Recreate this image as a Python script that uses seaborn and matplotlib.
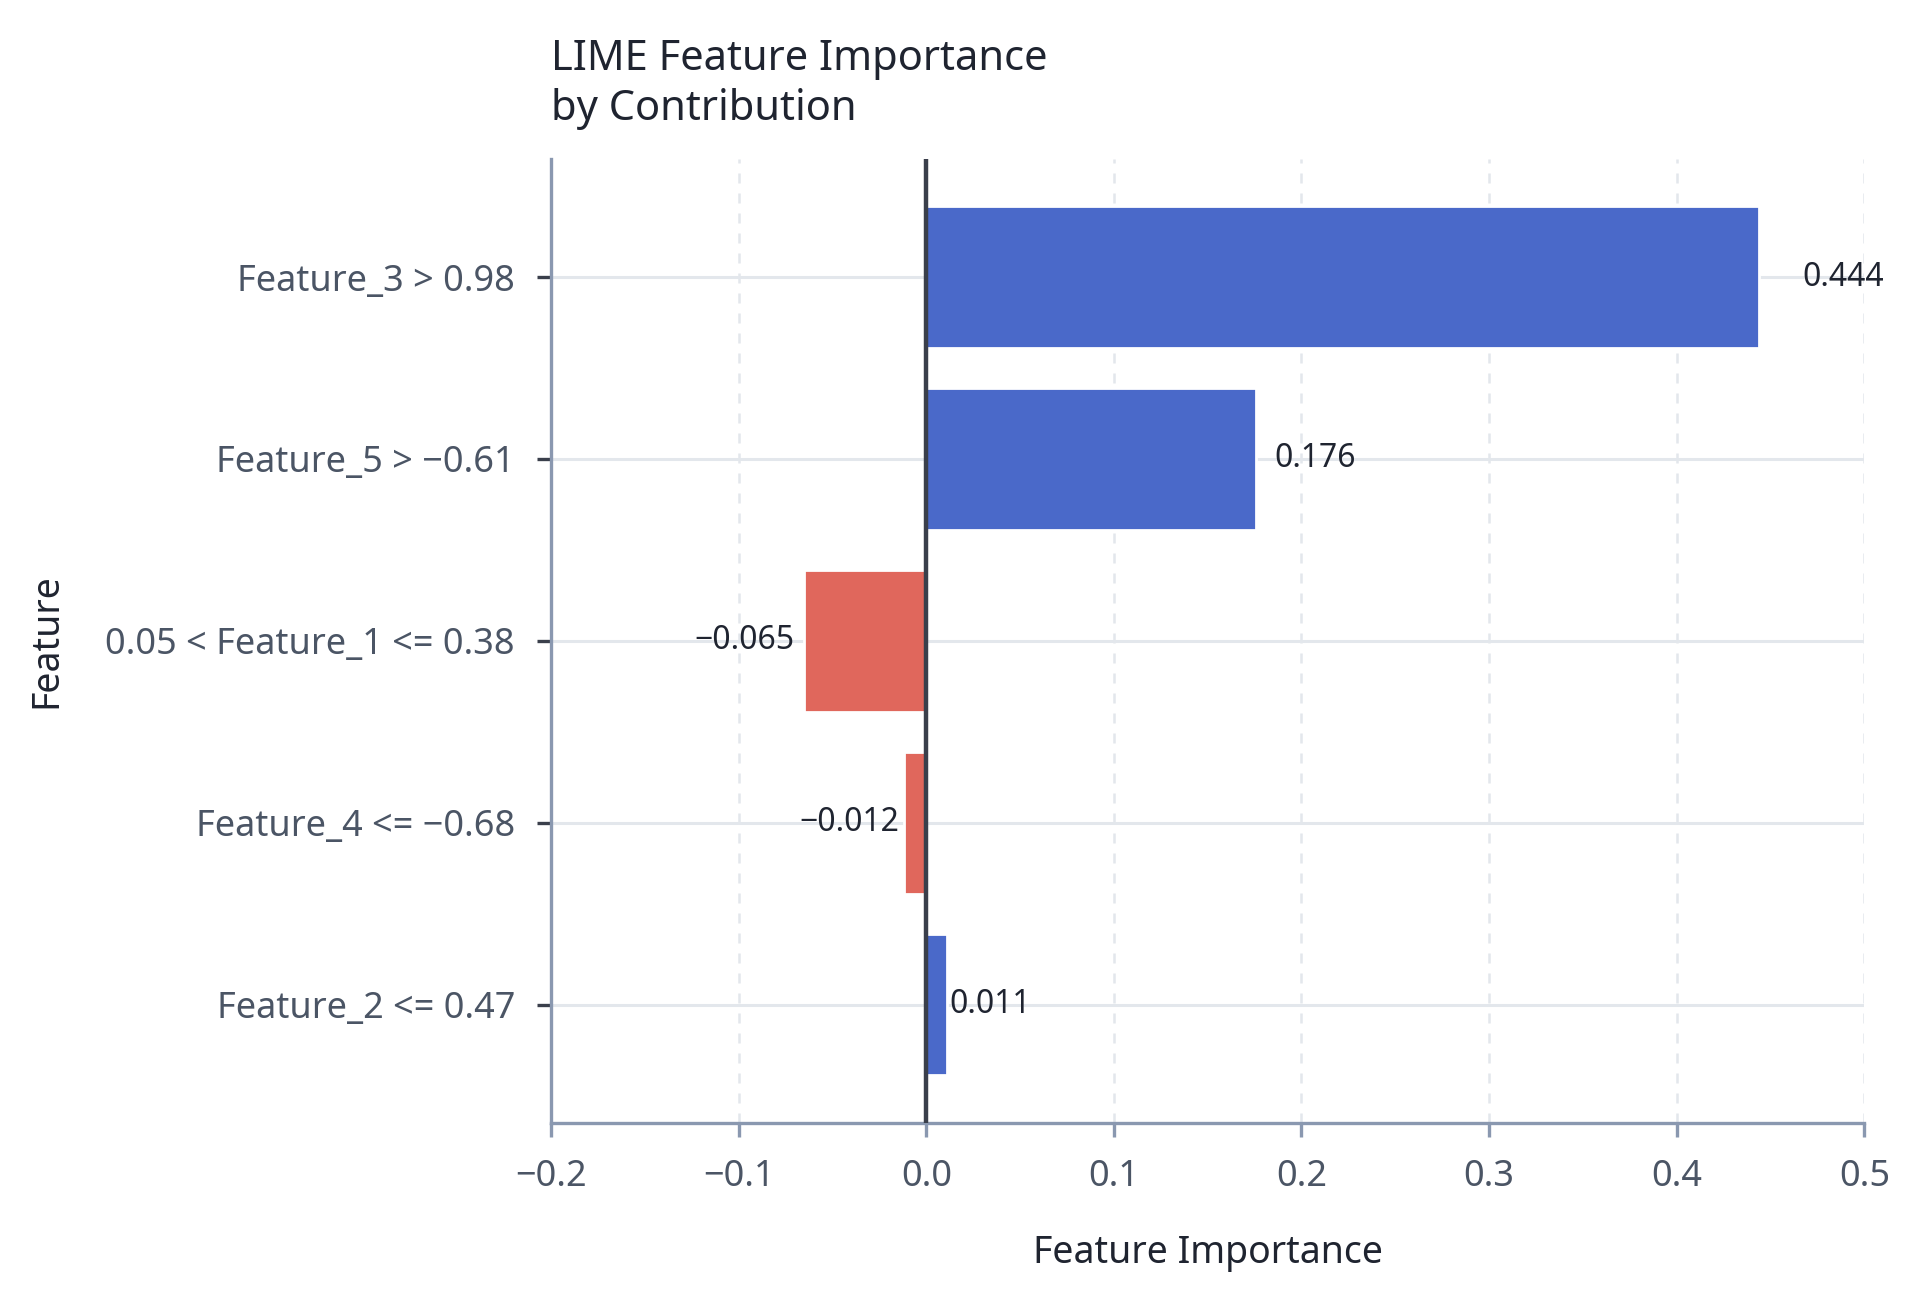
import pandas as pd
import numpy as np
import matplotlib.pyplot as plt
import seaborn as sns

# ---- data ----
features = ["Feature_3 > 0.98", "Feature_5 > -0.61", "0.05 < Feature_1 <= 0.38",
            "Feature_4 <= -0.68", "Feature_2 <= 0.47"]
tick_features = ["Feature_3 > 0.98", "Feature_5 > \u22120.61", "0.05 < Feature_1 <= 0.38",
                 "Feature_4 <= \u22120.68", "Feature_2 <= 0.47"]
importance = [0.444, 0.176, -0.065, -0.012, 0.011]
x_ticks = [-0.2, -0.1, 0.0, 0.1, 0.2, 0.3, 0.4, 0.5]
x_tick_labels = ["\u22120.2", "\u22120.1", "0.0", "0.1", "0.2", "0.3", "0.4", "0.5"]

POS = "#4a69c9"
NEG = "#e0675c"

df = pd.DataFrame({"Feature": features, "Importance": importance})
colors = [POS if v > 0 else NEG for v in importance]

sns.set_theme(style="white")
plt.rcParams['font.family'] = ['Noto Sans', 'DejaVu Sans']

fig = plt.figure(figsize=(9.6, 6.46), dpi=200)
ax = fig.add_axes([0.287, 0.131, 0.684, 0.746])

sns.barplot(data=df, x="Importance", y="Feature", hue="Feature", palette=colors,
            legend=False, orient="h", width=0.78, saturation=1, ax=ax)

ax.set_xlim(-0.2, 0.5)
ax.set_ylim(len(features) - 0.35, -0.65)

# grids
for i in range(len(features)):
    ax.axhline(i, color="#e3e7ec", lw=1.1, zorder=0)
for t in x_ticks:
    ax.axvline(t, color="#e3e7ec", lw=0.9, ls=(0, (4, 4)), zorder=0)
ax.axvline(0, color="#3a3f4b", lw=1.6, zorder=3)

# value labels
for i, v in enumerate(importance):
    if v >= 0:
        ax.text(v * 1.05 + 0.001, i, f"{v:.3f}", ha="left", va="center",
                fontsize=11.5, color="#1f2430")
    else:
        ax.text(v * 1.05 - 0.002, i, f"\u2212{abs(v):.3f}", ha="right", va="center",
                fontsize=11.5, color="#1f2430")

ax.set_xticks(x_ticks)
ax.set_xticklabels(x_tick_labels)
ax.set_yticks(range(len(features)))
ax.set_yticklabels(tick_features)
ax.tick_params(axis="both", labelsize=13, labelcolor="#4b5565", length=5, width=1.2,
               direction="out")
ax.tick_params(axis="y", left=True, color="#3a3f4b", pad=8)
ax.tick_params(axis="x", bottom=True, color="#8a98b0", pad=8)

for s in ["top", "right"]:
    ax.spines[s].set_visible(False)
for s in ["left", "bottom"]:
    ax.spines[s].set_color("#8a98b0")
    ax.spines[s].set_linewidth(1.2)

ax.set_xlabel("Feature Importance", fontsize=13.5, color="#1f2430", labelpad=14)
ax.set_ylabel("Feature", fontsize=13.5, color="#1f2430", labelpad=16)
ax.yaxis.set_label_coords(-0.37, 0.5)
ax.set_title("LIME Feature Importance\nby Contribution", loc="left", fontsize=15,
             color="#1f2430", pad=14, linespacing=1.25)

plt.savefig("out.png", dpi=200)
plt.close()
